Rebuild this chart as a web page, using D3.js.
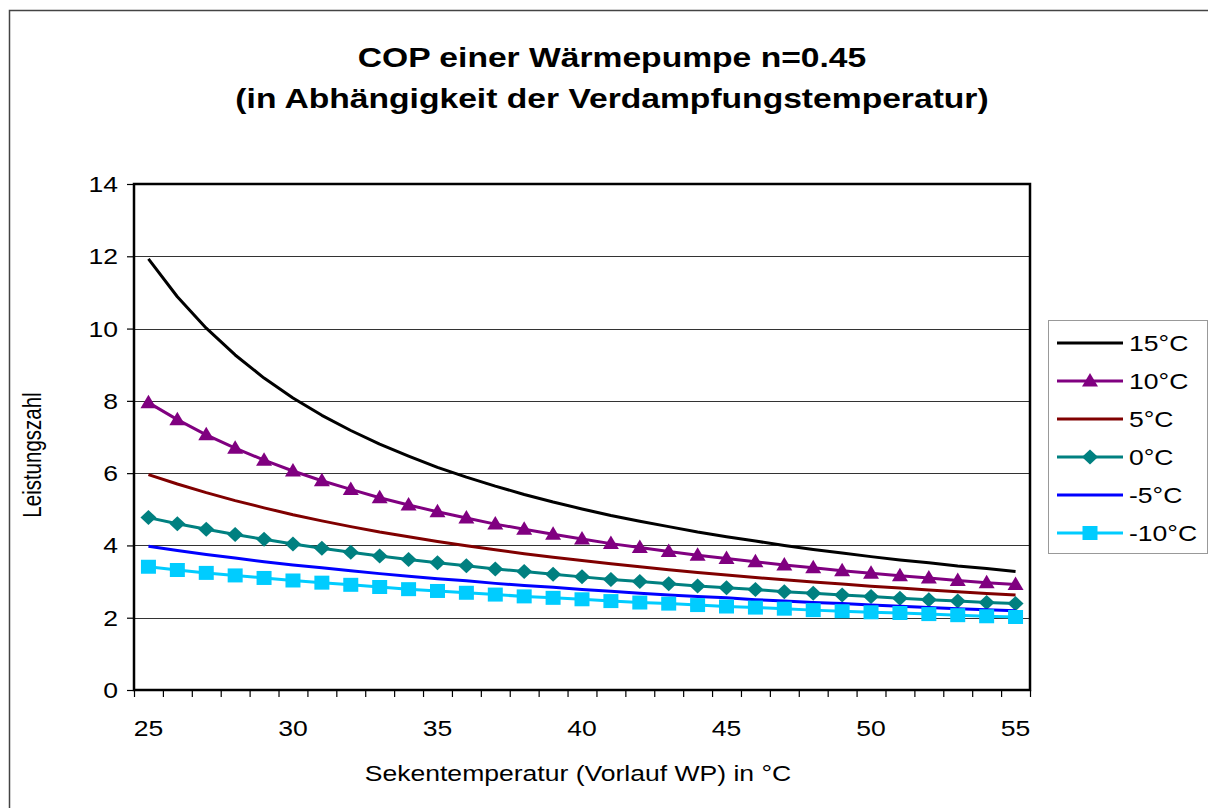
<!DOCTYPE html>
<html>
<head>
<meta charset="utf-8">
<script src="https://cdn.jsdelivr.net/npm/d3@7"></script>
<style>
body { margin: 0; background: #fff; }
text { font-family: "Liberation Sans", Arial, sans-serif; fill: #000; }
</style>
</head>
<body>
<div id="chart"></div>
<script>

// ---DATA---//

var temps = [25, 26, 27, 28, 29, 30, 31, 32, 33, 34, 35, 36, 37, 38, 39, 40,
	41, 42, 43, 44, 45, 46, 47, 48, 49, 50, 51, 52, 53, 54, 55];

var cop15 = [11.93, 10.88, 10.01, 9.27, 8.63, 8.08, 7.60, 7.18, 6.80, 6.47, 6.16,
	5.89, 5.64, 5.41, 5.20, 5.01, 4.83, 4.67, 4.52, 4.37, 4.24, 4.12, 4.00, 3.89,
	3.79, 3.69, 3.60, 3.52, 3.43, 3.36, 3.28];
var cop10 = [7.95, 7.48, 7.06, 6.69, 6.36, 6.06, 5.79, 5.55, 5.32, 5.12, 4.93,
	4.76, 4.59, 4.45, 4.31, 4.18, 4.05, 3.94, 3.83, 3.73, 3.64, 3.55, 3.46, 3.38,
	3.30, 3.23, 3.16, 3.10, 3.03, 2.97, 2.92];
var cop5 = [5.96, 5.70, 5.46, 5.24, 5.04, 4.85, 4.68, 4.52, 4.37, 4.24, 4.11,
	3.99, 3.88, 3.77, 3.67, 3.58, 3.49, 3.41, 3.33, 3.25, 3.18, 3.11, 3.05, 2.99,
	2.93, 2.87, 2.82, 2.77, 2.72, 2.67, 2.63];
var cop0 = [4.77, 4.60, 4.45, 4.30, 4.17, 4.04, 3.92, 3.81, 3.71, 3.61, 3.52,
	3.44, 3.35, 3.28, 3.20, 3.13, 3.06, 3.00, 2.94, 2.88, 2.83, 2.78, 2.72, 2.68,
	2.63, 2.59, 2.54, 2.50, 2.46, 2.42, 2.39];
var copM5 = [3.98, 3.86, 3.75, 3.65, 3.55, 3.46, 3.38, 3.30, 3.22, 3.15, 3.08,
	3.02, 2.95, 2.89, 2.84, 2.78, 2.73, 2.68, 2.63, 2.59, 2.55, 2.50, 2.46, 2.42,
	2.39, 2.35, 2.32, 2.28, 2.25, 2.22, 2.19];
var copM10 = [3.41, 3.32, 3.24, 3.17, 3.10, 3.03, 2.97, 2.91, 2.85, 2.79, 2.74,
	2.69, 2.64, 2.59, 2.55, 2.51, 2.46, 2.42, 2.39, 2.35, 2.31, 2.28, 2.25, 2.21,
	2.18, 2.15, 2.13, 2.10, 2.07, 2.04, 2.02];

var seriesNames = ["15°C", "10°C", "5°C", "0°C", "-5°C", "-10°C"];
var seriesValues = [cop15, cop10, cop5, cop0, copM5, copM10];
var seriesColors = ["#000000", "#800080", "#800000", "#008080", "#0000ff", "#00ccff"];
var seriesMarkers = [null, "triangle", null, "diamond", null, "square"];

var yTicks = [0, 2, 4, 6, 8, 10, 12, 14];
var xLabels = [25, 30, 35, 40, 45, 50, 55];

// ---LAYOUT---//

var width = 1208;
var height = 808;
var plot = { left: 134, right: 1030, top: 184, bottom: 690 };
// the picture is a little stretched sideways, text follows that
var sx = 1.18;
var fontSize = 22.5;
var titleSize = 28.5;

var svg = d3.select("#chart").append("svg")
	.attr("width", width)
	.attr("height", height);

// outer chart frame
svg.append("rect")
	.attr("x", 9.5).attr("y", 10.5)
	.attr("width", 1300).attr("height", 900)
	.attr("fill", "#fff")
	.attr("stroke", "#444")
	.attr("stroke-width", 1.5);

var x = d3.scaleLinear()
	.domain([temps[0] - 0.5, temps[temps.length - 1] + 0.5])
	.range([plot.left, plot.right]);

var y = d3.scaleLinear()
	.domain([0, 14])
	.range([plot.bottom, plot.top]);

function stretchedText(px, py, str, anchor, size, weight) {
	return svg.append("text")
		.attr("transform", "translate(" + px + "," + py + ") scale(" + sx + ",1)")
		.attr("text-anchor", anchor)
		.style("font-size", size + "px")
		.style("font-weight", weight || "normal")
		.text(str);
}

// ---TITLE---//

stretchedText(612, 67, "COP einer Wärmepumpe n=0.45", "middle", titleSize, "bold");
stretchedText(612, 108, "(in Abhängigkeit der Verdampfungstemperatur)", "middle", titleSize, "bold");

// ---GRID---//

svg.append("g").attr("class", "grid")
	.selectAll("line")
	.data(yTicks.slice(1, -1))
	.enter().append("line")
	.attr("x1", plot.left).attr("x2", plot.right)
	.attr("y1", function(d) { return Math.round(y(d)) + 0.5; })
	.attr("y2", function(d) { return Math.round(y(d)) + 0.5; })
	.attr("stroke", "#333")
	.attr("stroke-width", 1.2);

// ---SERIES---//

var line = d3.line()
	.x(function(d, i) { return x(temps[i]); })
	.y(function(d) { return y(d); });

var markerPaths = {
	triangle: "M0,-8L8,5.5L-8,5.5Z",
	diamond: "M0,-7.5L8,0L0,7.5L-8,0Z",
	square: "M-7.5,-7H7.5V7H-7.5Z"
};

seriesValues.forEach(function(vals, s) {

	svg.append("path")
		.datum(vals)
		.attr("d", line)
		.attr("fill", "none")
		.attr("stroke", seriesColors[s])
		.attr("stroke-width", 3)
		.attr("stroke-linejoin", "round");

	if (seriesMarkers[s]) {
		svg.append("g").selectAll("path")
			.data(vals)
			.enter().append("path")
			.attr("transform", function(d, i) {
				return "translate(" + x(temps[i]) + "," + y(d) + ")";
			})
			.attr("d", markerPaths[seriesMarkers[s]])
			.attr("fill", seriesColors[s]);
	}

});// END: series loop

// plot border
svg.append("rect")
	.attr("x", plot.left).attr("y", plot.top)
	.attr("width", plot.right - plot.left)
	.attr("height", plot.bottom - plot.top)
	.attr("fill", "none")
	.attr("stroke", "#000")
	.attr("stroke-width", 2.5);

// ---AXES---//

var yAxis = d3.axisLeft(y)
	.tickValues(yTicks)
	.tickSize(7)
	.tickFormat("");

svg.append("g")
	.attr("transform", "translate(" + plot.left + ",0)")
	.call(yAxis)
	.call(function(g) { g.select(".domain").remove(); })
	.selectAll("line").attr("stroke", "#000").attr("stroke-width", 1.2);

yTicks.forEach(function(t) {
	stretchedText(118, y(t) + 8, t, "end", fontSize);
});

var boundaries = d3.range(temps[0] - 0.5, temps[temps.length - 1] + 1, 1);

var xAxis = d3.axisBottom(x)
	.tickValues(boundaries)
	.tickSize(7)
	.tickFormat("");

svg.append("g")
	.attr("transform", "translate(0," + plot.bottom + ")")
	.call(xAxis)
	.call(function(g) { g.select(".domain").remove(); })
	.selectAll("line").attr("stroke", "#000").attr("stroke-width", 1.2);

xLabels.forEach(function(t) {
	stretchedText(x(t), 736, t, "middle", fontSize);
});

stretchedText(578, 781, "Sekentemperatur (Vorlauf WP) in °C", "middle", fontSize);

svg.append("text")
	.attr("transform", "translate(41,455) rotate(-90) scale(1,1.3)")
	.attr("text-anchor", "middle")
	.style("font-size", "20.5px")
	.text("Leistungszahl");

// ---LEGEND---//

var legend = svg.append("g").attr("class", "legend");

legend.append("rect")
	.attr("x", 1048.5).attr("y", 320.5)
	.attr("width", 159).attr("height", 233)
	.attr("fill", "#fff")
	.attr("stroke", "#999")
	.attr("stroke-width", 1);

var legendRowY = d3.scaleLinear().domain([0, 5]).range([343, 533]);

seriesNames.forEach(function(name, s) {

	var ly = legendRowY(s);

	legend.append("line")
		.attr("x1", 1057).attr("x2", 1123)
		.attr("y1", ly).attr("y2", ly)
		.attr("stroke", seriesColors[s])
		.attr("stroke-width", 3);

	if (seriesMarkers[s]) {
		legend.append("path")
			.attr("transform", "translate(1090," + ly + ")")
			.attr("d", markerPaths[seriesMarkers[s]])
			.attr("fill", seriesColors[s]);
	}

	stretchedText(1129, ly + 8, name, "start", fontSize);

});// END: legend loop

</script>
</body>
</html>
